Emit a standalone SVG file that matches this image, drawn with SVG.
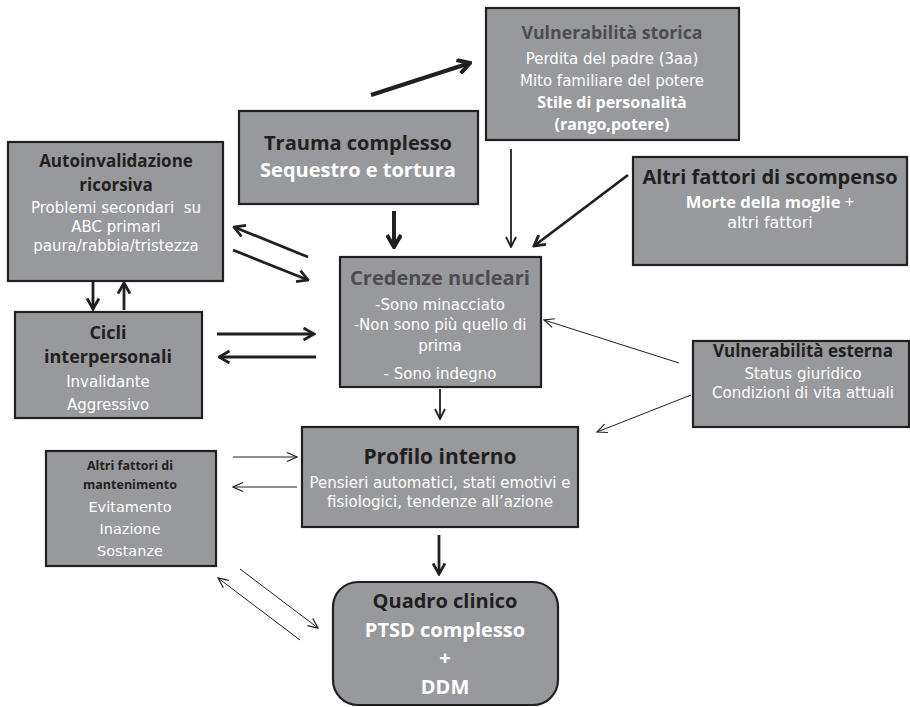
<svg xmlns="http://www.w3.org/2000/svg" width="910" height="707" viewBox="0 0 910 707">
  <style>
    .box { fill: #98999c; stroke: #231f20; stroke-width: 2.2; }
    text { font-family: "Open Sans", "DejaVu Sans", sans-serif; text-anchor: middle; }
    .t { font-weight: bold; fill: #231f20; }
    .tg { font-weight: bold; fill: #4d4d4f; }
    .w { fill: #ffffff; font-family: "DejaVu Sans", "Open Sans", sans-serif; }
    .wb { fill: #ffffff; font-weight: bold; }
    .c { fill: none; stroke: #231f20; stroke-linecap: butt; }
    .k4 { stroke-width: 4; marker-end: url(#hk); }
    .k3 { stroke-width: 2.8; marker-end: url(#hm); }
    .k2 { stroke-width: 1.8; marker-end: url(#hs); }
    .k1 { stroke-width: 1; marker-end: url(#ht); }
  </style>
  <defs>
    <marker id="hk" viewBox="0 0 16 16" refX="14" refY="8" markerWidth="16" markerHeight="16" markerUnits="userSpaceOnUse" orient="auto">
      <path d="M2,1 L14,8 L2,15" fill="none" stroke="#231f20" stroke-width="4"/>
    </marker>
    <marker id="hm" viewBox="0 0 14 14" refX="12.5" refY="7" markerWidth="14" markerHeight="14" markerUnits="userSpaceOnUse" orient="auto">
      <path d="M2,1 L12.5,7 L2,13" fill="none" stroke="#231f20" stroke-width="2.8"/>
    </marker>
    <marker id="hs" viewBox="0 0 12 12" refX="11" refY="6" markerWidth="12" markerHeight="12" markerUnits="userSpaceOnUse" orient="auto">
      <path d="M1,1 L11,6 L1,11" fill="none" stroke="#231f20" stroke-width="1.8"/>
    </marker>
    <marker id="ht" viewBox="0 0 12 12" refX="11" refY="6" markerWidth="12" markerHeight="12" markerUnits="userSpaceOnUse" orient="auto">
      <path d="M1,1.5 L11,6 L1,10.5" fill="none" stroke="#231f20" stroke-width="1.2"/>
    </marker>
  </defs>

  <g id="connectors">
    <line class="c k4" x1="371" y1="95" x2="470" y2="63"/>
    <line class="c k4" x1="394" y1="211" x2="394" y2="247"/>
    <line class="c k2" x1="511" y1="149" x2="511" y2="247"/>
    <line class="c k3" x1="628" y1="175" x2="534" y2="246"/>
    <line class="c k3" x1="308" y1="257" x2="234" y2="227"/>
    <line class="c k3" x1="233" y1="250" x2="308" y2="280"/>
    <line class="c k3" x1="93" y1="282" x2="93" y2="309"/>
    <line class="c k3" x1="124" y1="310" x2="124" y2="283"/>
    <line class="c k3" x1="217" y1="334" x2="314" y2="334"/>
    <line class="c k3" x1="316" y1="357" x2="219" y2="357"/>
    <line class="c k1" x1="679" y1="363" x2="544" y2="320"/>
    <line class="c k1" x1="691" y1="395" x2="597" y2="432"/>
    <line class="c k2" x1="440" y1="389" x2="440" y2="419"/>
    <line class="c k1" x1="233" y1="457" x2="297" y2="457"/>
    <line class="c k1" x1="297" y1="487" x2="233" y2="487"/>
    <line class="c k3" x1="439" y1="535" x2="439" y2="574"/>
    <line class="c k1" x1="240" y1="569" x2="318" y2="628"/>
    <line class="c k1" x1="300" y1="640" x2="218" y2="578"/>
  </g>

  <g id="vulnerabilita-storica">
    <rect class="box" x="486" y="8" width="253" height="132"/>
    <text class="tg" x="612" y="39" font-size="17.8">Vulnerabilità storica</text>
    <text class="w" x="612" y="64" font-size="15">Perdita del padre (3aa)</text>
    <text class="w" x="612" y="86" font-size="15">Mito familiare del potere</text>
    <text class="wb" x="612" y="108" font-size="16">Stile di personalità</text>
    <text class="wb" x="612" y="130" font-size="16">(rango,potere)</text>
  </g>

  <g id="trauma-complesso">
    <rect class="box" x="239" y="111" width="239" height="93"/>
    <text class="t" x="358" y="150" font-size="20">Trauma complesso</text>
    <text class="wb" x="358" y="177" font-size="20">Sequestro e tortura</text>
  </g>

  <g id="autoinvalidazione">
    <rect class="box" x="8" y="142" width="215" height="139"/>
    <text class="t" x="116" y="167" font-size="17">Autoinvalidazione</text>
    <text class="t" x="116" y="191" font-size="17">ricorsiva</text>
    <text class="w" x="116" y="213" font-size="15" xml:space="preserve">Problemi secondari  su</text>
    <text class="w" x="116" y="232" font-size="15">ABC primari</text>
    <text class="w" x="116" y="251" font-size="15">paura/rabbia/tristezza</text>
  </g>

  <g id="altri-fattori-scompenso">
    <rect class="box" x="633" y="157" width="274" height="108"/>
    <text class="t" x="770" y="184" font-size="20">Altri fattori di scompenso</text>
    <text class="wb" x="770" y="208" font-size="16.5">Morte della moglie <tspan font-weight="normal">+</tspan></text>
    <text class="w" x="770" y="228" font-size="16">altri fattori</text>
  </g>

  <g id="credenze-nucleari">
    <rect class="box" x="340" y="257" width="201" height="130"/>
    <text class="tg" x="440" y="285" font-size="20">Credenze nucleari</text>
    <text class="w" x="440" y="310" font-size="15">-Sono minacciato</text>
    <text class="w" x="440" y="330" font-size="15">-Non sono più quello di</text>
    <text class="w" x="440" y="351" font-size="15">prima</text>
    <text class="w" x="440" y="379" font-size="15">- Sono indegno</text>
  </g>

  <g id="cicli-interpersonali">
    <rect class="box" x="15" y="312" width="187" height="106"/>
    <text class="t" x="108" y="339" font-size="18">Cicli</text>
    <text class="t" x="108" y="363" font-size="18">interpersonali</text>
    <text class="w" x="108" y="387" font-size="15">Invalidante</text>
    <text class="w" x="108" y="410" font-size="15">Aggressivo</text>
  </g>

  <g id="vulnerabilita-esterna">
    <rect class="box" x="693" y="341" width="216" height="86"/>
    <text class="t" x="803" y="357" font-size="17">Vulnerabilità esterna</text>
    <text class="w" x="803" y="379" font-size="15">Status giuridico</text>
    <text class="w" x="803" y="398" font-size="15">Condizioni di vita attuali</text>
  </g>

  <g id="profilo-interno">
    <rect class="box" x="302" y="427" width="276" height="100"/>
    <text class="t" x="440" y="464" font-size="21">Profilo interno</text>
    <text class="w" x="440" y="488" font-size="15">Pensieri automatici, stati emotivi e</text>
    <text class="w" x="440" y="507" font-size="15">fisiologici, tendenze all’azione</text>
  </g>

  <g id="altri-fattori-mantenimento">
    <rect class="box" x="46" y="451" width="170" height="115"/>
    <text class="t" x="130" y="470" font-size="12.5">Altri fattori di</text>
    <text class="t" x="130" y="489" font-size="12.5">mantenimento</text>
    <text class="w" x="130" y="512" font-size="14.5">Evitamento</text>
    <text class="w" x="130" y="534" font-size="14.5">Inazione</text>
    <text class="w" x="130" y="556" font-size="14.5">Sostanze</text>
  </g>

  <g id="quadro-clinico">
    <rect class="box" x="333" y="582" width="225" height="123" rx="25" ry="25"/>
    <text class="t" x="445" y="608" font-size="20">Quadro clinico</text>
    <text class="wb" x="445" y="637" font-size="20">PTSD complesso</text>
    <text class="wb" x="445" y="665" font-size="20">+</text>
    <text class="wb" x="445" y="694" font-size="20">DDM</text>
  </g>
</svg>
